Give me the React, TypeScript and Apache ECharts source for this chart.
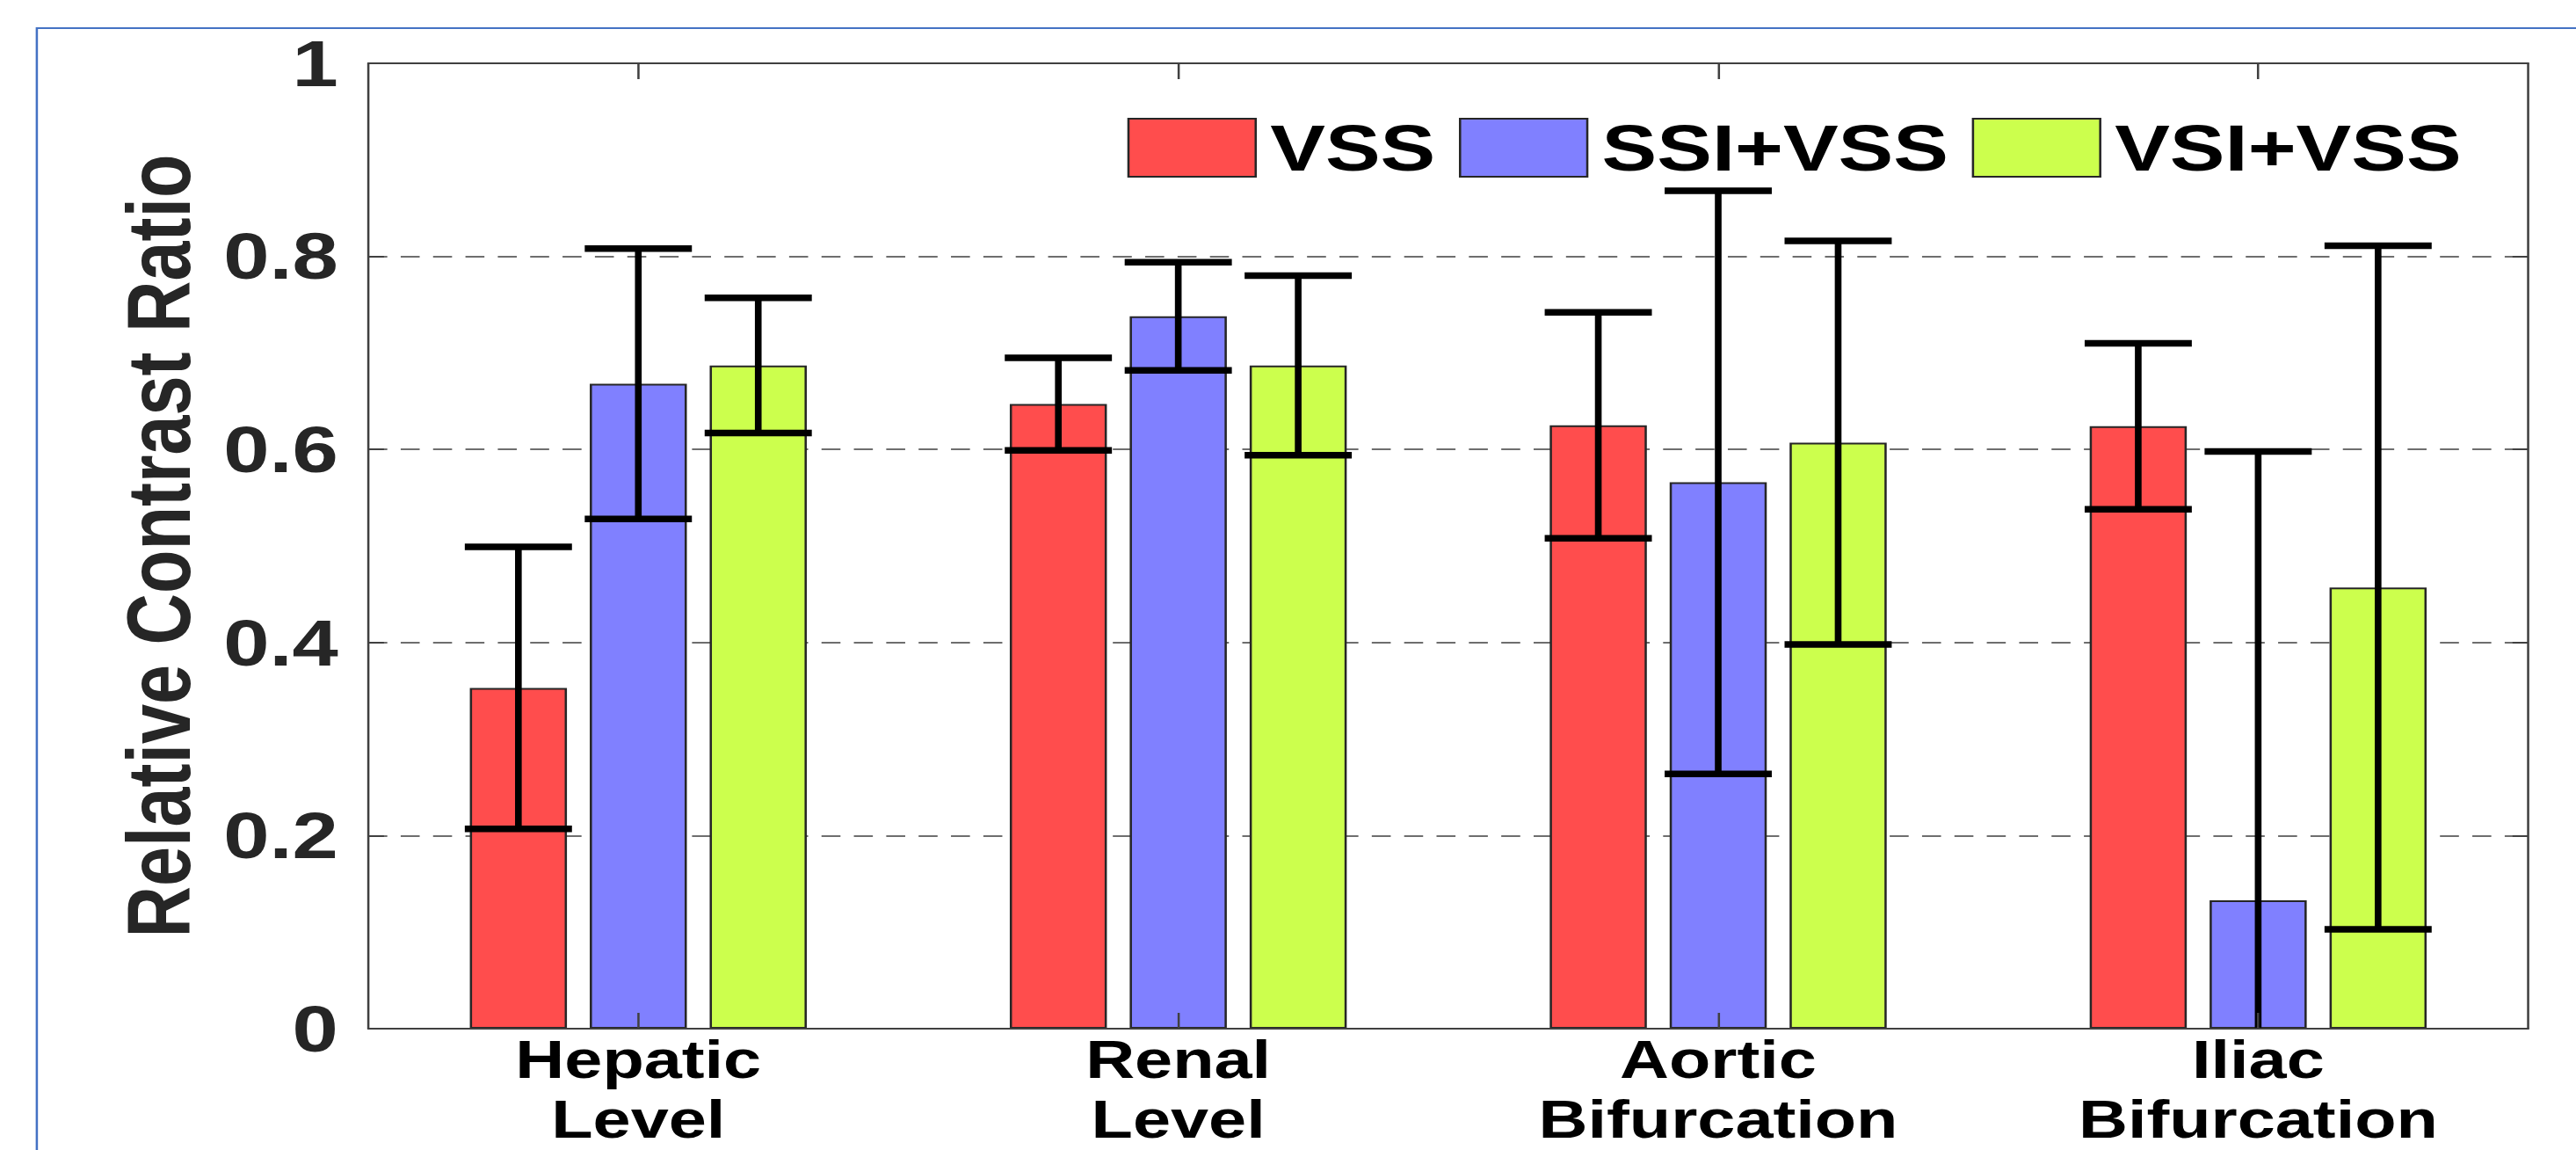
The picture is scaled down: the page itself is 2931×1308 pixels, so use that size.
import React, { useEffect, useRef } from 'react';
import * as echarts from 'echarts';

// ---- data ----
const categories = ['Hepatic\nLevel', 'Renal\nLevel', 'Aortic\nBifurcation', 'Iliac\nBifurcation'];
const seriesNames = ['VSS', 'SSI+VSS', 'VSI+VSS'];
const vssMean = [0.353, 0.647, 0.625, 0.624];
const vssErr = [0.146, 0.048, 0.117, 0.086];
const ssiMean = [0.668, 0.738, 0.566, 0.133];
const ssiErr = [0.140, 0.056, 0.302, 0.465];
const vsiMean = [0.687, 0.687, 0.607, 0.457];
const vsiErr = [0.070, 0.093, 0.209, 0.354];
const yTicks = [0, 0.2, 0.4, 0.6, 0.8, 1];
const yTitle = 'Relative Contrast Ratio';

// ---- layout / style ----
const SX = 1.27; // horizontal stretch of the original figure
const PAGE_W = 2931;
const PAGE_H = 1308;
const W = Math.round(PAGE_W / SX);
const FONT = '"Liberation Sans", Arial, Helvetica, sans-serif';
const COLORS = ['#FF4D4D', '#8080FF', '#CCFF4D'];
const BAR_W = 87;
const BAR_GAP = 0.235;
const CAP_HALF = 48;

export default function App() {
  const ref = useRef<HTMLDivElement>(null);

  useEffect(() => {
    const chart = echarts.init(ref.current!, null, { renderer: 'svg', width: W, height: PAGE_H });
    const means = [vssMean, ssiMean, vsiMean];
    const errs = [vssErr, ssiErr, vsiErr];
    const pitch = BAR_W * (1 + BAR_GAP);

    const barSeries = seriesNames.map((name, k) => ({
      name,
      type: 'bar',
      xAxisIndex: 0,
      yAxisIndex: 0,
      barWidth: BAR_W,
      barGap: `${BAR_GAP * 100}%`,
      data: means[k],
      itemStyle: { color: COLORS[k], borderColor: '#262626', borderWidth: 2 },
      z: 2,
    }));

    const errSeries = seriesNames.map((name, k) => ({
      name: name + ' error',
      type: 'custom',
      xAxisIndex: 0,
      yAxisIndex: 0,
      z: 5,
      encode: { x: 0, y: 1 },
      data: means[k].map((m, i) => [i, m, errs[k][i]]),
      renderItem: (params: any, api: any) => {
        const ci = api.value(0);
        const m = api.value(1);
        const e = api.value(2);
        const hi = m + e;
        const lo = m - e;
        const cx = api.coord([ci, m])[0] + (k - 1) * pitch;
        const yHi = api.coord([ci, Math.min(hi, 1)])[1];
        const yLo = api.coord([ci, Math.max(lo, 0)])[1];
        const children: any[] = [
          {
            type: 'line',
            shape: { x1: cx, y1: yHi, x2: cx, y2: yLo },
            style: { stroke: '#000', lineWidth: 6 },
          },
        ];
        if (hi <= 1) {
          children.push({
            type: 'line',
            shape: { x1: cx - CAP_HALF, y1: yHi, x2: cx + CAP_HALF, y2: yHi },
            style: { stroke: '#000', lineWidth: 7.5 },
          });
        }
        if (lo >= 0) {
          children.push({
            type: 'line',
            shape: { x1: cx - CAP_HALF, y1: yLo, x2: cx + CAP_HALF, y2: yLo },
            style: { stroke: '#000', lineWidth: 7.5 },
          });
        }
        return { type: 'group', children };
      },
    }));

    const axisLine = { show: true, onZero: false, lineStyle: { color: '#404040', width: 2 } };
    const tickStyle = { color: '#404040', width: 2 };

    const option: any = {
      animation: false,
      backgroundColor: '#ffffff',
      grid: { left: 330, right: W - 2265, top: 72, bottom: PAGE_H - 1170, containLabel: false },
      legend: {
        data: seriesNames,
        left: 1005,
        top: 126,
        itemWidth: 114,
        itemHeight: 66,
        itemGap: 21,
        icon: 'rect',
        selectedMode: false,
        textStyle: { fontSize: 74, fontWeight: 'bold', color: '#000', fontFamily: FONT, padding: [0, 0, 0, 8] },
      },
      xAxis: [
        {
          type: 'category',
          data: categories,
          position: 'bottom',
          z: 10,
          axisLine,
          axisTick: { show: true, inside: true, length: 18, alignWithLabel: true, lineStyle: tickStyle },
          axisLabel: {
            interval: 0,
            margin: 1,
            fontSize: 61,
            lineHeight: 68,
            fontWeight: 'bold',
            color: '#000',
            fontFamily: FONT,
          },
          splitLine: { show: false },
        },
        {
          type: 'category',
          data: categories,
          position: 'top',
          z: 10,
          axisLine,
          axisTick: { show: true, inside: true, length: 18, alignWithLabel: true, lineStyle: tickStyle },
          axisLabel: { show: false },
          splitLine: { show: false },
        },
      ],
      yAxis: [
        {
          type: 'value',
          min: yTicks[0],
          max: yTicks[yTicks.length - 1],
          interval: 0.2,
          position: 'left',
          z: 10,
          axisLine,
          axisTick: { show: true, inside: true, length: 14, lineStyle: tickStyle },
          axisLabel: { margin: 27, fontSize: 74, fontWeight: 'bold', color: '#262626', fontFamily: FONT },
          splitLine: { show: false },
        },
        {
          type: 'value',
          min: yTicks[0],
          max: yTicks[yTicks.length - 1],
          interval: 0.2,
          position: 'right',
          z: 10,
          axisLine,
          axisTick: { show: true, inside: true, length: 14, lineStyle: tickStyle },
          axisLabel: { show: false },
          splitLine: { show: false },
        },
        {
          // gridlines only, drawn beneath the bars
          type: 'value',
          min: yTicks[0],
          max: yTicks[yTicks.length - 1],
          interval: 0.2,
          position: 'left',
          z: 0,
          axisLine: { show: false },
          axisTick: { show: false },
          axisLabel: { show: false },
          splitLine: {
            show: true,
            showMinLine: false,
            showMaxLine: false,
            lineStyle: { color: '#6e6e6e', width: 2, type: [17, 12] },
          },
        },
      ],
      graphic: [
        {
          type: 'rect',
          z: -1,
          shape: { x: 33, y: 32, width: W + 100, height: PAGE_H + 100 },
          style: { fill: 'none', stroke: '#4472C4', lineWidth: 2 },
          silent: true,
        },
        {
          type: 'text',
          x: 142,
          y: 621,
          rotation: Math.PI / 2,
          style: {
            text: yTitle,
            fontSize: 81,
            fontWeight: 'bold',
            fontFamily: FONT,
            fill: '#262626',
            textAlign: 'center',
            textVerticalAlign: 'middle',
          },
        },
      ],
      series: [...barSeries, ...errSeries],
    };

    chart.setOption(option);
    return () => chart.dispose();
  }, []);

  return (
    <div
      ref={ref}
      style={{
        position: 'fixed',
        left: 0,
        top: 0,
        width: W,
        height: PAGE_H,
        transform: `scaleX(${SX})`,
        transformOrigin: '0 0',
        background: '#fff',
      }}
    />
  );
}
